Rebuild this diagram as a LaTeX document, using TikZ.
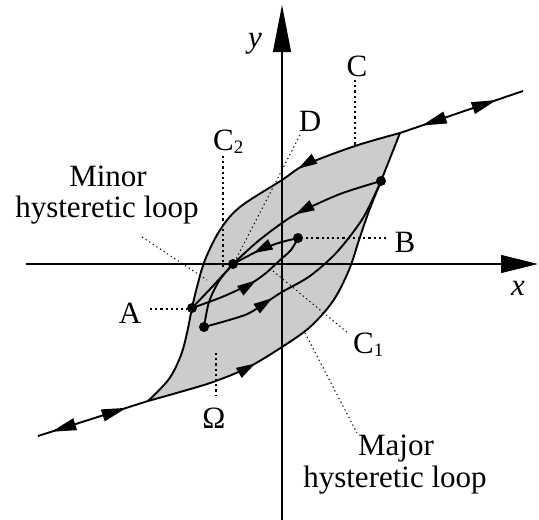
\documentclass[tikz,border=0pt]{standalone}
\usepackage{fontspec}
\setmainfont{Liberation Serif}
\usetikzlibrary{arrows.meta,decorations.markings}
\tikzset{
  curve/.style={line width=1.9pt, line join=round},
  axisline/.style={line width=1.1pt},
  lead/.style={line width=1.5pt, dash pattern=on 2.2pt off 3pt},
  leadthin/.style={line width=1pt, dash pattern=on 1.3pt off 3pt},
  lbl/.style={inner sep=0pt, font=\fontsize{31}{32}\selectfont},
  midarrow/.style={postaction={decorate,decoration={markings,
      mark=at position #1 with {\arrow{Triangle[length=19pt,width=11pt]}}}}},
  tailarrows/.style 2 args={postaction={decorate,decoration={markings,
      mark=at position #1 with {\arrowreversed{Triangle[length=25pt,width=12pt]}},
      mark=at position #2 with {\arrow{Triangle[length=25pt,width=12pt]}}}}}
}
\newcommand{\subnum}[1]{\raisebox{-3.5pt}{\fontsize{19}{19}\selectfont #1}}
\newcommand{\upperbranch}{(400,133) (355,146) (305,165) (282,180) (240,207) (220,230) (205,260) (197,287) (192,308) (187,333) (181,355) (169,379) (148,401)}
\newcommand{\lowerbranch}{(148,401) (180,392) (213,382) (247,368) (282,347) (310,327) (333,301) (349,270) (359,240) (369,211) (381,181) (400,133)}
\begin{document}
\begin{tikzpicture}[x=1pt,y=-1pt]
\useasboundingbox (0,0) rectangle (539,520);
% key points
\coordinate (T) at (400,133);
\coordinate (L) at (148,401);
\coordinate (TR) at (523,91);
\coordinate (BL) at (38,436);
\coordinate (P) at (381,181);
\coordinate (B) at (298,238);
\coordinate (D) at (233,264);
\coordinate (A) at (192,308);
\coordinate (E) at (204,327);
% shaded major loop
\fill[gray!40] plot[smooth,tension=0.55] coordinates {\upperbranch}
  -- plot[smooth,tension=0.55] coordinates {\lowerbranch} -- cycle;
% axes
\coordinate (xs) at (26,264); \coordinate (xe) at (538,264);
\coordinate (ys) at (282,520); \coordinate (ye) at (282,5);
\draw[axisline,-{Triangle[length=37pt,width=18pt]}] (xs) -- (xe);
\draw[axisline,-{Triangle[length=47pt,width=18pt]}] (ys) -- (ye);
% leaders
\coordinate (lc1) at (355,80);  \coordinate (lc2) at (355,145);
\coordinate (lcc1) at (223,156); \coordinate (lcc2) at (223,270);
\coordinate (ld1) at (300,135); \coordinate (ld2) at (235,261);
\coordinate (lm1) at (142,237); \coordinate (lm2) at (207,280);
\coordinate (la1) at (150,309); \coordinate (la2) at (190,309);
\coordinate (lb1) at (306,238); \coordinate (lb2) at (388,238);
\coordinate (lo1) at (273,271); \coordinate (lo2) at (348,333);
\coordinate (lw1) at (216,353); \coordinate (lw2) at (216,396);
\coordinate (lj1) at (305,333); \coordinate (lj2) at (357,433);
\draw[lead] (lc1) -- (lc2);
\draw[lead] (lcc1) -- (lcc2);
\draw[leadthin] (ld1) -- (ld2);
\draw[leadthin] (lm1) -- (lm2);
\draw[lead] (la1) -- (la2);
\draw[lead] (lb1) -- (lb2);
\draw[leadthin] (lo1) -- (lo2);
\draw[lead] (lw1) -- (lw2);
\draw[leadthin] (lj1) -- (lj2);
% major loop outline
\draw[curve,midarrow=108pt] plot[smooth,tension=0.55] coordinates {\upperbranch};
\draw[curve,midarrow=114pt] plot[smooth,tension=0.55] coordinates {\lowerbranch};
% tails
\draw[curve,tailarrows={23pt}{102pt}] (T) -- (TR);
\draw[curve,tailarrows={14pt}{93pt}] (BL) -- (L);
% inner curves
\draw[curve,midarrow=92pt] plot[smooth] coordinates {(381,181) (340,194) (300,212) (282,223) (257,242) (233,264)};
\draw[curve] plot[smooth] coordinates {(233,264) (212,287) (192,308)};
\draw[curve] plot[smooth] coordinates {(233,264) (219,281) (209,302) (204,327)};
\draw[curve,midarrow=70pt] plot[smooth] coordinates {(192,308) (222,297) (250,284) (266,273) (280,260) (291,250) (298,238)};
\draw[curve,midarrow=47pt] plot[smooth] coordinates {(298,238) (280,242.5) (262,249) (247,256.5) (233,264)};
\draw[curve,midarrow=75pt] plot[smooth] coordinates {(204,327) (245,315) (265,303) (282,292) (310,276) (337,252) (363,218) (381,181)};
% dots
\foreach \p in {P,B,D,A,E} \fill (\p) circle (5);
% labels
\node[lbl,anchor=base] (ylab) at (255,47) {\textit{y}};
\node[lbl,anchor=base] (xlab) at (518,295) {\textit{x}};
\node[lbl,anchor=base] (labC) at (357,76) {C};
\node[lbl,anchor=base] (labD) at (310,131) {D};
\node[lbl,anchor=base west] (labC2) at (213,150) {C\subnum{2}};
\node[lbl,anchor=base] (labB) at (405,252) {B};
\node[lbl,anchor=base] (labA) at (130,323) {A};
\node[lbl,anchor=base] (labO) at (214,428) {Ω};
\node[lbl,anchor=base west] (labC1) at (353,353) {C\subnum{1}};
\node[lbl,anchor=base] (minor1) at (108,186) {Minor};
\node[lbl,anchor=base] (minor2) at (107,217) {hysteretic loop};
\node[lbl,anchor=base] (major1) at (396,455) {Major};
\node[lbl,anchor=base] (major2) at (395,487) {hysteretic loop};
\end{tikzpicture}
\end{document}
